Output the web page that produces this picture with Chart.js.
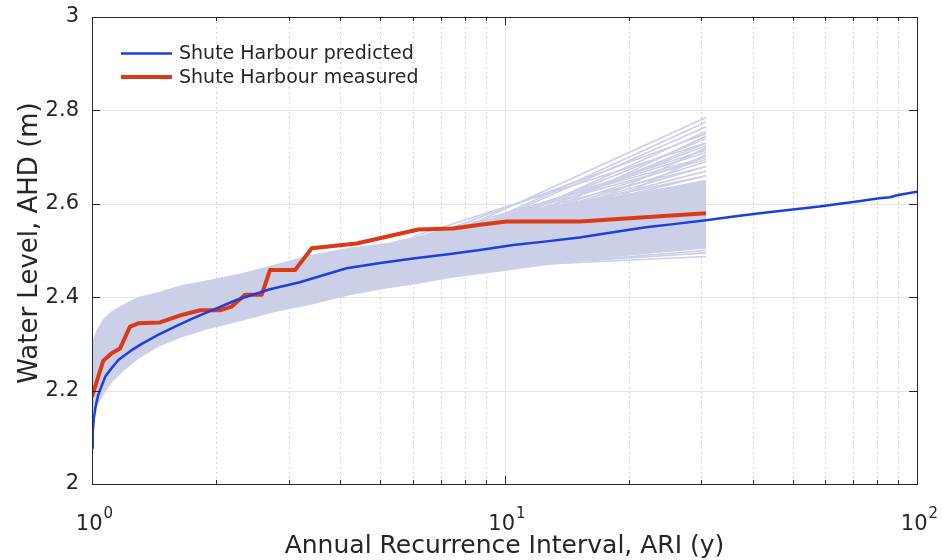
<!DOCTYPE html>
<html>
<head>
<meta charset="utf-8">
<script src="https://cdn.jsdelivr.net/npm/chart.js@4.4.0/dist/chart.umd.min.js"></script>
<style>
  html, body { margin: 0; padding: 0; background: #fff; }
</style>
</head>
<body>
<canvas id="chart" width="943" height="560"></canvas>
<script>
// predicted curve (ARI in years, water level in m AHD)
const predictedAri = [1.000, 1.004, 1.010, 1.020, 1.035, 1.050, 1.077, 1.120, 1.160, 1.240, 1.320, 1.450, 1.590, 1.750, 1.920,
  2.24, 2.70, 3.19, 4.14, 5.0, 6.0, 7.3, 8.72, 10.5, 12.5, 15.2, 18, 22, 26, 30.8, 36, 41.6, 50, 58, 65, 73, 81, 86, 90, 100];
const predictedLevel = [2.077, 2.110, 2.140, 2.165, 2.190, 2.205, 2.230, 2.250, 2.266, 2.285, 2.300, 2.320, 2.337, 2.354, 2.369,
  2.394, 2.417, 2.432, 2.462, 2.473, 2.483, 2.492, 2.501, 2.512, 2.519, 2.528, 2.538, 2.550, 2.557, 2.565, 2.573, 2.580, 2.588, 2.594, 2.600, 2.606, 2.612, 2.614, 2.619, 2.626];

// measured annual maxima
const measuredAri = [1.000, 1.065, 1.116, 1.169, 1.236, 1.295, 1.462, 1.650, 1.830, 2.040, 2.182, 2.350, 2.579, 2.700, 3.105,
  3.41, 4.38, 6.18, 7.51, 8.72, 10.12, 15.24, 30.8];
const measuredLevel = [2.187, 2.264, 2.280, 2.290, 2.337, 2.344, 2.346, 2.362, 2.372, 2.372, 2.380, 2.405, 2.405, 2.458, 2.458,
  2.505, 2.515, 2.545, 2.547, 2.555, 2.562, 2.562, 2.580];

// spread of the simulated curves
const bandAri = [1.00, 1.03, 1.07, 1.12, 1.20, 1.30, 1.45, 1.65, 1.90, 2.3, 2.8, 3.4, 4.2, 5.2, 6.2, 7.5, 9, 10, 12, 15, 20, 25, 30.8];
const bandLow = [2.150, 2.170, 2.195, 2.220, 2.245, 2.270, 2.295, 2.315, 2.332, 2.350, 2.370, 2.385, 2.405, 2.420, 2.430, 2.443, 2.452, 2.457, 2.467, 2.478, 2.490, 2.498, 2.505];
const bandHigh = [2.300, 2.330, 2.355, 2.370, 2.385, 2.400, 2.410, 2.425, 2.435, 2.450, 2.470, 2.490, 2.505, 2.515, 2.530, 2.550, 2.565, 2.575, 2.590, 2.605, 2.620, 2.635, 2.650];

// single simulated curves leaving the band towards the record end
const fanStartAri = [4.5, 5, 5.5, 6, 6.5, 7, 7.5, 8, 8.5, 9, 9.5, 10, 10.5, 11, 11.5, 12, 12.5, 13, 13.5, 14, 15, 16, 17, 18, 19, 12, 14, 16];
const fanStartLevel = [2.500, 2.510, 2.515, 2.530, 2.535, 2.540, 2.545, 2.550, 2.555, 2.560, 2.570, 2.575, 2.580, 2.580, 2.585, 2.585,
  2.590, 2.590, 2.595, 2.595, 2.600, 2.605, 2.610, 2.610, 2.615, 2.470, 2.475, 2.480];
const fanEndLevel = [2.620, 2.650, 2.700, 2.730, 2.660, 2.750, 2.680, 2.785, 2.710, 2.775, 2.715, 2.765, 2.695, 2.740, 2.755, 2.725,
  2.730, 2.700, 2.745, 2.690, 2.680, 2.670, 2.720, 2.660, 2.705, 2.487, 2.495, 2.500];
const fanEndAri = 30.8;

const xTicks = [1, 10, 100];
const xTickExponents = ['0', '1', '2'];
const yTicks = [2, 2.2, 2.4, 2.6, 2.8, 3];
const yTickLabels = ['2', '2.2', '2.4', '2.6', '2.8', '3'];

const seriesNames = ['Shute Harbour predicted', 'Shute Harbour measured'];

const BLUE = '#1c3fe0';
const RED = '#dc3a16';
const LAVENDER = 'rgb(204,207,232)';
const INK = '#262626';
const FONT = '"DejaVu Sans", sans-serif';

function pts(xs, ys) {
  return xs.map((x, i) => ({x: x, y: ys[i]}));
}

const datasets = [
  {data: pts(predictedAri, predictedLevel), borderColor: BLUE, borderWidth: 2.5, order: 0},
  {data: pts(measuredAri, measuredLevel), borderColor: RED, borderWidth: 4, order: 1},
];
fanStartAri.forEach((x, i) => {
  datasets.push({
    data: [{x: x, y: fanStartLevel[i]}, {x: fanEndAri, y: fanEndLevel[i]}],
    borderColor: LAVENDER, borderWidth: 1.6, order: 2
  });
});
datasets.push({data: pts(bandAri, bandLow), borderColor: LAVENDER, borderWidth: 1, order: 3});
datasets.push({data: pts(bandAri, bandHigh), borderColor: LAVENDER, borderWidth: 1, backgroundColor: LAVENDER, fill: '-1', order: 3});

// grid behind the lines, box, ticks, labels and legend on top
const axesPlugin = {
  id: 'axesPlugin',
  beforeDatasetsDraw(chart) {
    const {ctx, chartArea: a, scales: {x, y}} = chart;
    ctx.save();
    ctx.lineWidth = 1;
    ctx.strokeStyle = '#e4e4e4';
    yTicks.slice(1, -1).forEach(v => {
      const py = Math.round(y.getPixelForValue(v)) + 0.5;
      ctx.beginPath(); ctx.moveTo(a.left, py); ctx.lineTo(a.right, py); ctx.stroke();
    });
    const px10 = Math.round(x.getPixelForValue(10)) + 0.5;
    ctx.beginPath(); ctx.moveTo(px10, a.top); ctx.lineTo(px10, a.bottom); ctx.stroke();
    ctx.strokeStyle = '#c4c4c4';
    ctx.setLineDash([1.5, 3.5]);
    [1, 10].forEach(d => {
      for (let k = 2; k <= 9; k++) {
        const px = Math.round(x.getPixelForValue(k * d)) + 0.5;
        ctx.beginPath(); ctx.moveTo(px, a.top); ctx.lineTo(px, a.bottom); ctx.stroke();
      }
    });
    ctx.restore();
  },
  afterDraw(chart) {
    const {ctx, chartArea: a, scales: {x, y}} = chart;
    ctx.save();
    ctx.strokeStyle = INK;
    ctx.lineWidth = 1;
    ctx.strokeRect(Math.round(a.left) + 0.5, Math.round(a.top) + 0.5, Math.round(a.right - a.left), Math.round(a.bottom - a.top));

    // x ticks, inward on bottom and top
    [1, 10].forEach(d => {
      for (let k = 1; k <= 10; k++) {
        const v = k * d;
        const px = Math.round(x.getPixelForValue(v)) + 0.5;
        const len = (k === 1 || k === 10) ? 8 : 4;
        ctx.beginPath();
        ctx.moveTo(px, a.bottom); ctx.lineTo(px, a.bottom - len);
        ctx.moveTo(px, a.top); ctx.lineTo(px, a.top + len);
        ctx.stroke();
      }
    });
    // y ticks, inward on left and right
    yTicks.forEach(v => {
      const py = Math.round(y.getPixelForValue(v)) + 0.5;
      ctx.beginPath();
      ctx.moveTo(a.left, py); ctx.lineTo(a.left + 8, py);
      ctx.moveTo(a.right, py); ctx.lineTo(a.right - 8, py);
      ctx.stroke();
    });

    ctx.fillStyle = INK;
    // y tick labels
    ctx.font = '21px ' + FONT;
    ctx.textAlign = 'right';
    ctx.textBaseline = 'middle';
    yTicks.forEach((v, i) => {
      ctx.fillText(yTickLabels[i], a.left - 13, y.getPixelForValue(v));
    });
    // x tick labels as powers of ten
    ctx.textBaseline = 'alphabetic';
    ctx.textAlign = 'left';
    xTicks.forEach((v, i) => {
      ctx.font = '21px ' + FONT;
      const wBase = ctx.measureText('10').width;
      ctx.font = '15px ' + FONT;
      const wExp = ctx.measureText(xTickExponents[i]).width;
      const left = x.getPixelForValue(v) - (wBase + wExp) / 2 + 2;
      ctx.font = '21px ' + FONT;
      ctx.fillText('10', left, a.bottom + 46);
      ctx.font = '15px ' + FONT;
      ctx.fillText(xTickExponents[i], left + wBase + 1, a.bottom + 34);
    });

    // axis titles
    ctx.font = '25px ' + FONT;
    ctx.textAlign = 'center';
    ctx.fillText('Annual Recurrence Interval, ARI (y)', (a.left + a.right) / 2, 553);
    ctx.save();
    ctx.translate(37, 243);
    ctx.rotate(-Math.PI / 2);
    ctx.font = '26px ' + FONT;
    ctx.fillText('Water Level, AHD (m)', 0, 0);
    ctx.restore();

    // legend
    const legendColors = [BLUE, RED];
    const legendWidths = [2.5, 4];
    ctx.font = '19px ' + FONT;
    ctx.textAlign = 'left';
    ctx.textBaseline = 'middle';
    seriesNames.forEach((name, i) => {
      const ly = 53.5 + i * 23.5;
      ctx.strokeStyle = legendColors[i];
      ctx.lineWidth = legendWidths[i];
      ctx.beginPath(); ctx.moveTo(121, ly); ctx.lineTo(172, ly); ctx.stroke();
      ctx.fillStyle = INK;
      ctx.fillText(name, 179, ly + 1);
    });
    ctx.restore();
  }
};

new Chart(document.getElementById('chart'), {
  type: 'line',
  data: {datasets: datasets},
  options: {
    responsive: false,
    animation: false,
    layout: {padding: {left: 92, right: 26, top: 17, bottom: 76}},
    elements: {point: {radius: 0}, line: {tension: 0, borderJoinStyle: 'round', fill: false}},
    plugins: {legend: {display: false}, tooltip: {enabled: false}},
    scales: {
      x: {type: 'logarithmic', min: 1, max: 100, display: false},
      y: {type: 'linear', min: 2, max: 3, display: false}
    }
  },
  plugins: [axesPlugin]
});
</script>
</body>
</html>
